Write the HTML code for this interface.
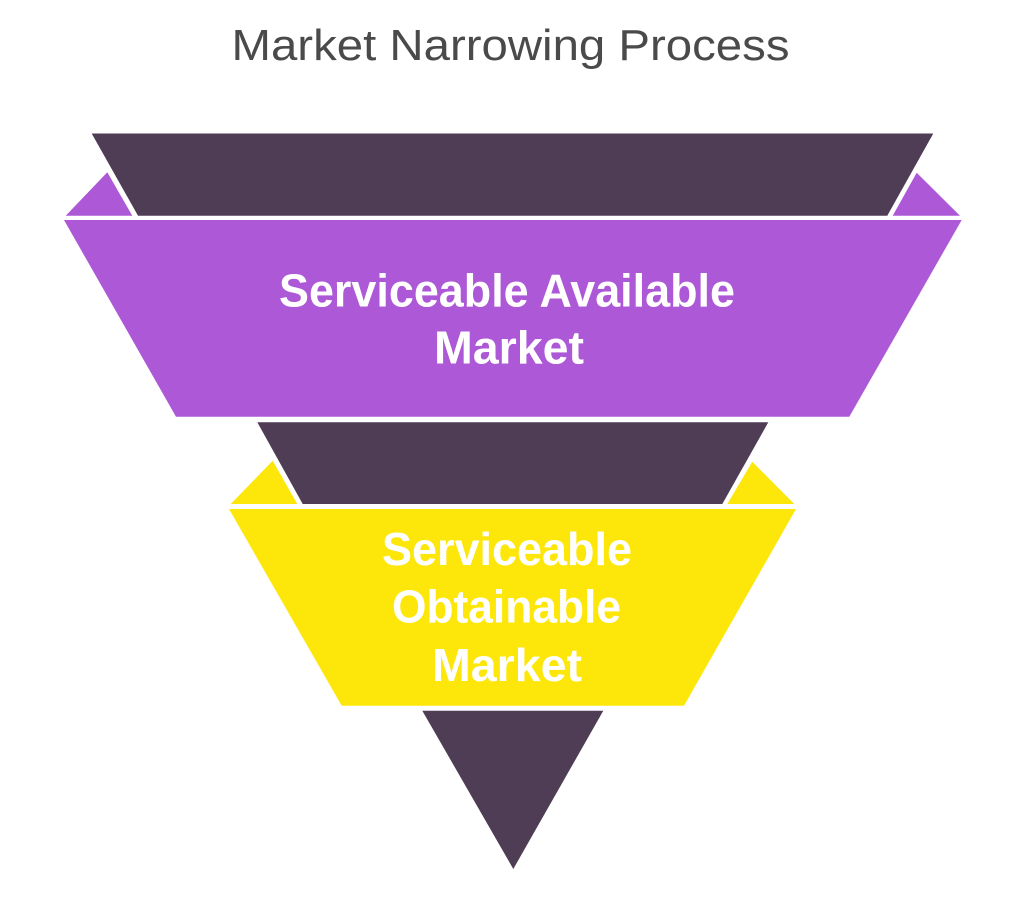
<!DOCTYPE html>
<html>
<head>
<meta charset="utf-8">
<style>
  html,body{margin:0;padding:0;background:#ffffff;}
  svg{display:block;}
  text{font-family:"Liberation Sans",sans-serif;}
</style>
</head>
<body>
<svg width="1024" height="904" viewBox="0 0 1024 904" xmlns="http://www.w3.org/2000/svg">
  <rect width="1024" height="904" fill="#ffffff"/>
  <text x="231.5" y="60" font-size="44" fill="#4a4a4a" textLength="558" lengthAdjust="spacingAndGlyphs">Market Narrowing Process</text>

  <!-- top dark band -->
  <polygon points="91.7,133.5 933.3,133.5 887.3,215.7 138,215.7" fill="#4f3d56"/>
  <!-- purple folds -->
  <polygon points="107.3,172.3 132.3,215.7 65.7,215.7" fill="#ad58d7"/>
  <polygon points="916.7,172.7 960,215.7 892.7,215.7" fill="#ad58d7"/>
  <!-- purple main -->
  <polygon points="64,220 961.7,220 849.3,416.7 176,416.7" fill="#ad58d7"/>

  <!-- second dark band -->
  <polygon points="257.3,422.3 768.3,422.3 722.3,504 302.7,504" fill="#4f3d56"/>
  <!-- yellow folds -->
  <polygon points="272.7,460.7 297.3,504 230.7,504" fill="#fde60a"/>
  <polygon points="752.3,461.7 794.3,504 727.3,504" fill="#fde60a"/>
  <!-- yellow main -->
  <polygon points="229,509 796,509 684,705.7 341.7,705.7" fill="#fde60a"/>

  <!-- bottom triangle -->
  <polygon points="422.3,710.7 603.3,710.7 513.3,869" fill="#4f3d56"/>

  <!-- purple labels -->
  <text x="279" y="306.5" font-size="46" font-weight="bold" fill="#ffffff" textLength="456" lengthAdjust="spacingAndGlyphs">Serviceable Available</text>
  <text x="434" y="363.5" font-size="46" font-weight="bold" fill="#ffffff" textLength="150" lengthAdjust="spacingAndGlyphs">Market</text>

  <!-- yellow labels -->
  <text x="382" y="565" font-size="46" font-weight="bold" fill="#ffffff" textLength="250" lengthAdjust="spacingAndGlyphs">Serviceable</text>
  <text x="392" y="622.5" font-size="46" font-weight="bold" fill="#ffffff" textLength="229" lengthAdjust="spacingAndGlyphs">Obtainable</text>
  <text x="432" y="681" font-size="46" font-weight="bold" fill="#ffffff" textLength="150" lengthAdjust="spacingAndGlyphs">Market</text>
</svg>
</body>
</html>
